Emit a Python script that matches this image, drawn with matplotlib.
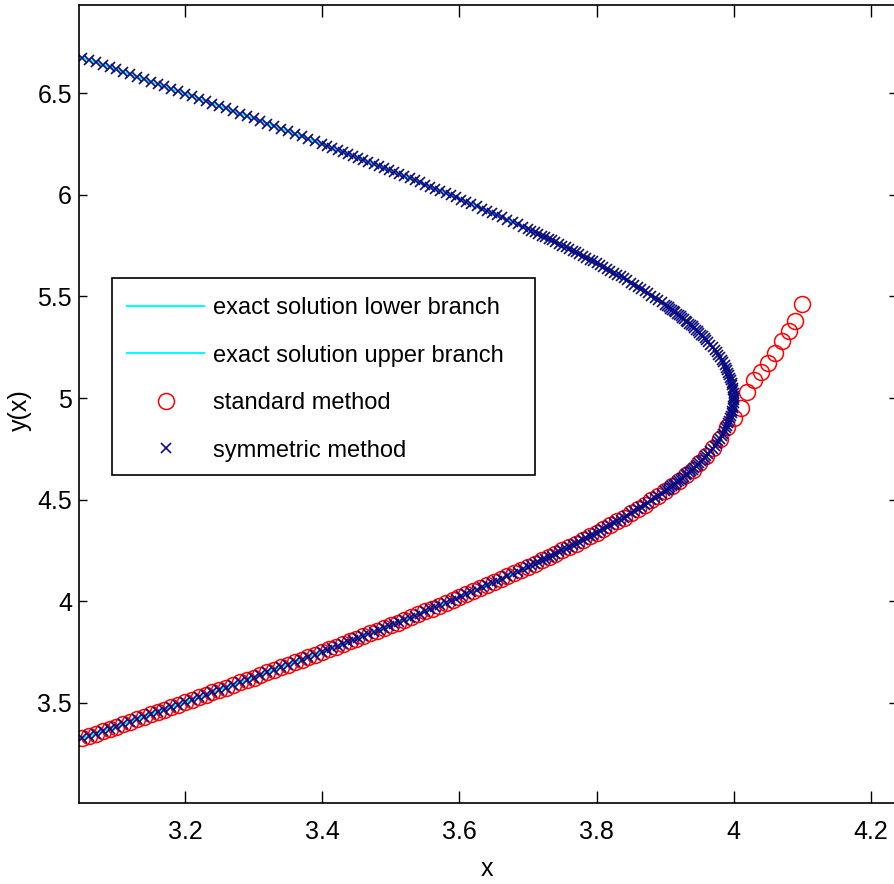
import matplotlib

matplotlib.use("Agg")

import matplotlib.pyplot as plt  # noqa: E402
from matplotlib.patches import Rectangle  # noqa: E402

plt.rcParams["font.family"] = ["Liberation Sans", "DejaVu Sans"]

# exact solution (both branches share the x samples)
exact_x = [3.0455, 3.1, 3.15, 3.2, 3.25, 3.3, 3.35, 3.4, 3.45, 3.5, 3.55, 3.6, 3.65,
           3.7, 3.75, 3.8, 3.85, 3.9, 3.93, 3.95, 3.97, 3.98, 3.99, 3.995, 3.999, 4.0]
exact_y_lower = [3.321, 3.384, 3.444, 3.503, 3.564, 3.625, 3.688, 3.751, 3.816, 3.882,
                 3.950, 4.020, 4.093, 4.169, 4.250, 4.337, 4.432, 4.542, 4.619, 4.680,
                 4.753, 4.799, 4.858, 4.900, 4.955, 5.0]
exact_y_upper = [6.679, 6.616, 6.556, 6.497, 6.436, 6.375, 6.312, 6.249, 6.184, 6.118,
                 6.050, 5.980, 5.907, 5.831, 5.750, 5.663, 5.568, 5.458, 5.381, 5.320,
                 5.247, 5.201, 5.142, 5.100, 5.045, 5.0]

# standard method, step 0.01 in x
std_x = [3.05, 3.06, 3.07, 3.08, 3.09, 3.10, 3.11, 3.12, 3.13, 3.14,
         3.15, 3.16, 3.17, 3.18, 3.19, 3.20, 3.21, 3.22, 3.23, 3.24,
         3.25, 3.26, 3.27, 3.28, 3.29, 3.30, 3.31, 3.32, 3.33, 3.34,
         3.35, 3.36, 3.37, 3.38, 3.39, 3.40, 3.41, 3.42, 3.43, 3.44,
         3.45, 3.46, 3.47, 3.48, 3.49, 3.50, 3.51, 3.52, 3.53, 3.54,
         3.55, 3.56, 3.57, 3.58, 3.59, 3.60, 3.61, 3.62, 3.63, 3.64,
         3.65, 3.66, 3.67, 3.68, 3.69, 3.70, 3.71, 3.72, 3.73, 3.74,
         3.75, 3.76, 3.77, 3.78, 3.79, 3.80, 3.81, 3.82, 3.83, 3.84,
         3.85, 3.86, 3.87, 3.88, 3.89, 3.90, 3.91, 3.92, 3.93, 3.94,
         3.95, 3.96, 3.97, 3.98, 3.99, 4.00, 4.01, 4.02, 4.03, 4.04,
         4.05, 4.06, 4.07, 4.08, 4.09, 4.10]
std_y = [3.326, 3.338, 3.349, 3.361, 3.373, 3.384, 3.396, 3.408, 3.420, 3.432,
         3.444, 3.455, 3.467, 3.479, 3.491, 3.503, 3.515, 3.528, 3.540, 3.552,
         3.564, 3.576, 3.588, 3.601, 3.613, 3.625, 3.638, 3.650, 3.663, 3.675,
         3.688, 3.700, 3.713, 3.726, 3.738, 3.751, 3.764, 3.777, 3.790, 3.803,
         3.816, 3.829, 3.842, 3.855, 3.869, 3.882, 3.895, 3.909, 3.923, 3.936,
         3.950, 3.964, 3.978, 3.992, 4.006, 4.020, 4.035, 4.049, 4.064, 4.078,
         4.093, 4.108, 4.123, 4.138, 4.154, 4.169, 4.185, 4.201, 4.217, 4.233,
         4.250, 4.267, 4.284, 4.301, 4.319, 4.337, 4.355, 4.374, 4.393, 4.412,
         4.432, 4.453, 4.474, 4.496, 4.518, 4.542, 4.566, 4.592, 4.619, 4.648,
         4.680, 4.714, 4.753, 4.799, 4.858, 4.900, 4.950, 5.030, 5.090, 5.130,
         5.170, 5.220, 5.280, 5.330, 5.380, 5.460]

# symmetric method, x samples shared by lower and upper branch
sym_x = [3.05, 3.06, 3.07, 3.08, 3.09, 3.10, 3.11, 3.12, 3.13, 3.14,
         3.15, 3.16, 3.17, 3.18, 3.19, 3.20, 3.21, 3.22, 3.23, 3.24,
         3.25, 3.26, 3.27, 3.28, 3.29, 3.30, 3.31, 3.32, 3.33, 3.34,
         3.35, 3.36, 3.37, 3.38, 3.39, 3.40,
         3.4075, 3.415, 3.4225, 3.43, 3.4375, 3.445, 3.4525, 3.46, 3.4675, 3.475,
         3.4825, 3.49, 3.4975, 3.505, 3.5125, 3.52, 3.5275, 3.535, 3.5425, 3.55,
         3.5575, 3.565, 3.5725, 3.58, 3.5875, 3.595, 3.6025, 3.61, 3.6175, 3.625,
         3.6325, 3.64, 3.6475, 3.655, 3.6625, 3.67, 3.6775, 3.685, 3.6925, 3.70,
         3.705, 3.71, 3.715, 3.72, 3.725, 3.73, 3.735, 3.74, 3.745, 3.75,
         3.755, 3.76, 3.765, 3.77, 3.775, 3.78, 3.785, 3.79, 3.795, 3.80,
         3.805, 3.81, 3.815, 3.82, 3.825, 3.83, 3.835, 3.84, 3.845, 3.85,
         3.855, 3.86, 3.865, 3.87, 3.875, 3.88, 3.885, 3.89, 3.895, 3.90,
         3.9025, 3.905, 3.9075, 3.91, 3.9125, 3.915, 3.9175, 3.92, 3.9225, 3.925,
         3.9275, 3.93, 3.9325, 3.935, 3.9375, 3.94, 3.9425, 3.945, 3.9475, 3.95,
         3.9525, 3.955, 3.9575, 3.96]
sym_y_lower = [3.326, 3.338, 3.349, 3.361, 3.373, 3.384, 3.396, 3.408, 3.420, 3.432,
               3.444, 3.455, 3.467, 3.479, 3.491, 3.503, 3.515, 3.528, 3.540, 3.552,
               3.564, 3.576, 3.588, 3.601, 3.613, 3.625, 3.638, 3.650, 3.663, 3.675,
               3.688, 3.700, 3.713, 3.726, 3.738, 3.751,
               3.761, 3.770, 3.780, 3.790, 3.800, 3.810, 3.819, 3.829, 3.839, 3.849,
               3.859, 3.869, 3.879, 3.889, 3.899, 3.909, 3.920, 3.930, 3.940, 3.950,
               3.961, 3.971, 3.982, 3.992, 4.003, 4.013, 4.024, 4.035, 4.046, 4.057,
               4.068, 4.078, 4.089, 4.101, 4.112, 4.123, 4.134, 4.146, 4.158, 4.169,
               4.177, 4.185, 4.193, 4.201, 4.209, 4.217, 4.225, 4.233, 4.241, 4.250,
               4.258, 4.267, 4.275, 4.284, 4.292, 4.301, 4.310, 4.319, 4.328, 4.337,
               4.346, 4.355, 4.364, 4.374, 4.383, 4.393, 4.402, 4.412, 4.422, 4.432,
               4.442, 4.453, 4.463, 4.474, 4.485, 4.496, 4.507, 4.518, 4.530, 4.542,
               4.548, 4.554, 4.560, 4.566, 4.573, 4.579, 4.586, 4.592, 4.599, 4.606,
               4.612, 4.619, 4.626, 4.634, 4.641, 4.648, 4.656, 4.664, 4.672, 4.680,
               4.688, 4.697, 4.705, 4.714]
sym_y_upper = [6.674, 6.662, 6.651, 6.639, 6.627, 6.616, 6.604, 6.592, 6.580, 6.568,
               6.556, 6.545, 6.533, 6.521, 6.509, 6.497, 6.485, 6.472, 6.460, 6.448,
               6.436, 6.424, 6.412, 6.399, 6.387, 6.375, 6.362, 6.350, 6.337, 6.325,
               6.312, 6.300, 6.287, 6.274, 6.262, 6.249,
               6.239, 6.230, 6.220, 6.210, 6.200, 6.190, 6.181, 6.171, 6.161, 6.151,
               6.141, 6.131, 6.121, 6.111, 6.101, 6.091, 6.080, 6.070, 6.060, 6.050,
               6.039, 6.029, 6.018, 6.008, 5.997, 5.987, 5.976, 5.965, 5.954, 5.943,
               5.932, 5.922, 5.911, 5.899, 5.888, 5.877, 5.866, 5.854, 5.842, 5.831,
               5.823, 5.815, 5.807, 5.799, 5.791, 5.783, 5.775, 5.767, 5.759, 5.750,
               5.742, 5.733, 5.725, 5.716, 5.708, 5.699, 5.690, 5.681, 5.672, 5.663,
               5.654, 5.645, 5.636, 5.626, 5.617, 5.607, 5.598, 5.588, 5.578, 5.568,
               5.558, 5.547, 5.537, 5.526, 5.515, 5.504, 5.493, 5.482, 5.470, 5.458,
               5.452, 5.446, 5.440, 5.434, 5.427, 5.421, 5.414, 5.408, 5.401, 5.394,
               5.388, 5.381, 5.374, 5.366, 5.359, 5.352, 5.344, 5.336, 5.328, 5.320,
               5.312, 5.303, 5.295, 5.286]
# symmetric method around the turning point
turn_x = [3.9629, 3.9661, 3.9692, 3.9722, 3.9750, 3.9777, 3.9802, 3.9826, 3.9848, 3.9869,
          3.9888, 3.9906, 3.9922, 3.9937, 3.9950, 3.9962, 3.9972, 3.9980, 3.9988, 3.9993,
          3.9997, 3.9999, 4.0, 3.9999, 3.9997, 3.9993, 3.9988, 3.9980, 3.9972, 3.9962,
          3.9950, 3.9937, 3.9922, 3.9906, 3.9888, 3.9869, 3.9848, 3.9826, 3.9802, 3.9777,
          3.9750, 3.9722, 3.9692, 3.9661, 3.9629]
turn_y = [4.725, 4.738, 4.750, 4.763, 4.775, 4.788, 4.800, 4.813, 4.825, 4.838,
          4.850, 4.863, 4.875, 4.888, 4.900, 4.913, 4.925, 4.938, 4.950, 4.963,
          4.975, 4.988, 5.000, 5.012, 5.025, 5.037, 5.050, 5.062, 5.075, 5.087,
          5.100, 5.112, 5.125, 5.137, 5.150, 5.162, 5.175, 5.187, 5.200, 5.212,
          5.225, 5.237, 5.250, 5.262, 5.275]

xticks = [3.2, 3.4, 3.6, 3.8, 4.0, 4.2]
xtick_labels = ["3.2", "3.4", "3.6", "3.8", "4", "4.2"]
yticks = [3.5, 4.0, 4.5, 5.0, 5.5, 6.0, 6.5]
ytick_labels = ["3.5", "4", "4.5", "5", "5.5", "6", "6.5"]

W, H = 895, 884
FS = 17
fig = plt.figure(figsize=(W / 100, H / 100), dpi=100)
fig.patch.set_facecolor("white")
ax = fig.add_axes([79 / W, (H - 803) / H, (897 - 79) / W, (803 - 5) / H])

navy = (0.04, 0.04, 0.52)
ax.plot(exact_x, exact_y_lower, color="cyan", lw=1.5, label="exact solution lower branch")
ax.plot(exact_x, exact_y_upper, color="cyan", lw=1.5, label="exact solution upper branch")
ax.plot(std_x, std_y, "o", ms=11.5, mfc="none", mec="red", mew=1.1, label="standard method")
ax.plot(sym_x + turn_x + sym_x, sym_y_lower + turn_y + sym_y_upper, "x",
        ms=6.5, color=navy, mew=1.2, label="symmetric method")

ax.set_xlim(3.0455, 4.238)
ax.set_ylim(3.008, 6.933)
ax.set_xticks(xticks, xtick_labels)
ax.set_yticks(yticks, ytick_labels)
ax.tick_params(direction="in", top=True, right=True, labelsize=18, width=1.0)
ax.tick_params(axis="x", length=8.5, pad=12)
ax.tick_params(axis="y", length=5.8, pad=5)
for sp in ax.spines.values():
    sp.set_linewidth(1.2)

fig.text(487 / W, 1 - 869 / H, "x", fontsize=18, ha="center", va="center")
fig.text(20 / W, 1 - 410 / H, "y(x)", fontsize=18, ha="center", va="center", rotation=90)

# legend with a MATLAB-like box drawn separately
box = Rectangle((112 / W, 1 - 475 / H), (535 - 112) / W, (475 - 278) / H,
                transform=fig.transFigure, fill=False, edgecolor="black",
                lw=1.2, clip_on=False, zorder=5)
ax.add_patch(box)
leg = ax.legend(loc="upper left", bbox_to_anchor=(112 / W, 1 - 282 / H),
                bbox_transform=fig.transFigure, borderaxespad=0, frameon=False,
                fontsize=FS, handlelength=3.26, handletextpad=0.38, labelspacing=1.08,
                borderpad=0.64, numpoints=1)
leg.set_zorder(4)

fig.savefig("out.png", dpi=100, facecolor="white")
plt.close(fig)
